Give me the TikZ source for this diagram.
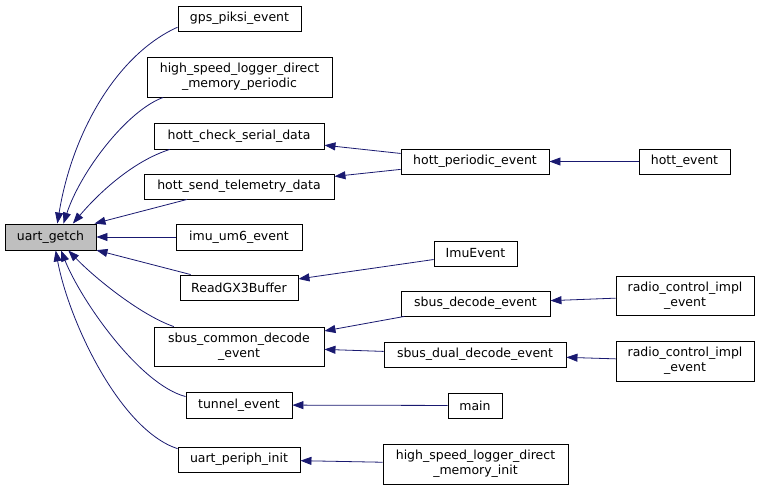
\documentclass[tikz,border=0pt]{standalone}
\usepackage{fontspec}
\setmainfont{DejaVu Sans}
\usetikzlibrary{arrows.meta,positioning}
\definecolor{EdgeBlue}{HTML}{191970}
\definecolor{FocusGray}{HTML}{BFBFBF}

\begin{document}
\begin{tikzpicture}[x=1pt,y=-1pt,
    every node/.style={font=\fontsize{12.5}{15}\selectfont},
    fn/.style={draw=black, fill=white, inner sep=0pt, align=center, line width=0.9pt},
    call/.style={-{Triangle[length=11pt,width=8pt]}, EdgeBlue, line width=0.8pt}]
  \useasboundingbox (0,0) rectangle (760,490);
  \node[fn, fill=FocusGray, minimum width=91pt, minimum height=26pt] (getch) at (50.5,237) {uart\_getch};
  \node[fn, minimum width=123pt, minimum height=25pt] (gps) at (239.5,18.5) {gps\_piksi\_event};
  \node[fn, minimum width=185pt, minimum height=40pt] (hslp) at (239.5,77)
    {high\_speed\_logger\_direct\\\_memory\_periodic};
  \node[fn, minimum width=170pt, minimum height=26pt] (check) at (239,136) {hott\_check\_serial\_data};
  \node[fn, minimum width=190pt, minimum height=25pt] (send) at (239,186.5) {hott\_send\_telemetry\_data};
  \node[fn, minimum width=126pt, minimum height=26pt] (imu) at (239,237) {imu\_um6\_event};
  \node[fn, minimum width=118pt, minimum height=25pt] (readgx) at (239,287.5) {ReadGX3Buffer};
  \node[fn, minimum width=170pt, minimum height=39pt] (sbusc) at (239,346.5)
    {sbus\_common\_decode\\\_event};
  \node[fn, minimum width=106pt, minimum height=26pt] (tunnel) at (239,405) {tunnel\_event};
  \node[fn, minimum width=122pt, minimum height=25pt] (periph) at (239,459.5) {uart\_periph\_init};
  \node[fn, minimum width=148pt, minimum height=25pt] (periodic) at (475,161.5) {hott\_periodic\_event};
  \node[fn, minimum width=91pt, minimum height=25pt] (hott) at (684.5,161.5) {hott\_event};
  \node[fn, minimum width=83pt, minimum height=25pt] (imuev) at (475.5,253.5) {ImuEvent};
  \node[fn, minimum width=149pt, minimum height=25pt] (sbusd) at (475.5,303.5) {sbus\_decode\_event};
  \node[fn, minimum width=182pt, minimum height=25pt] (sbusdual) at (475,354.5) {sbus\_dual\_decode\_event};
  \node[fn, minimum width=138pt, minimum height=39pt] (radioa) at (685,295.5)
    {radio\_control\_impl\\\_event};
  \node[fn, minimum width=138pt, minimum height=40pt] (radiob) at (685,361)
    {radio\_control\_impl\\\_event};
  \node[fn, minimum width=54pt, minimum height=25pt] (main) at (475,405.5) {main};
  \node[fn, minimum width=185pt, minimum height=40pt] (hsli) at (475.5,464)
    {high\_speed\_logger\_direct\\\_memory\_init};
  \draw[call] (gps.188) .. controls +(-60,27) and +(15,-92) .. (getch.63);
  \draw[call] (hslp.195) .. controls +(-36,13) and +(17,-52) .. (getch.46);
  \draw[call] (check.191) .. controls +(-35,11) and +(28,-33) .. (getch.31);
  \draw[call] (send.194) -- (getch.17);
  \draw[call] (imu) -- (getch);
  \draw[call] (readgx.165) -- (getch.-16);
  \draw[call] (sbusc.163) .. controls +(-32,-11) and +(28,29) .. (getch.-37);
  \draw[call] (tunnel.171) .. controls +(-46,-12) and +(20,50) .. (getch.-52);
  \draw[call] (periph.170) .. controls +(-58,-19) and +(13,70) .. (getch.-69);
  \draw[call] (periodic) -- (check);
  \draw[call] (periodic) -- (send);
  \draw[call] (hott) -- (periodic);
  \draw[call] (imuev) -- (readgx);
  \draw[call] (sbusd) -- (sbusc);
  \draw[call] (sbusdual) -- (sbusc);
  \draw[call] (radioa) -- (sbusd);
  \draw[call] (radiob) -- (sbusdual);
  \draw[call] (main) -- (tunnel);
  \draw[call] (hsli) -- (periph);
\end{tikzpicture}
\end{document}
